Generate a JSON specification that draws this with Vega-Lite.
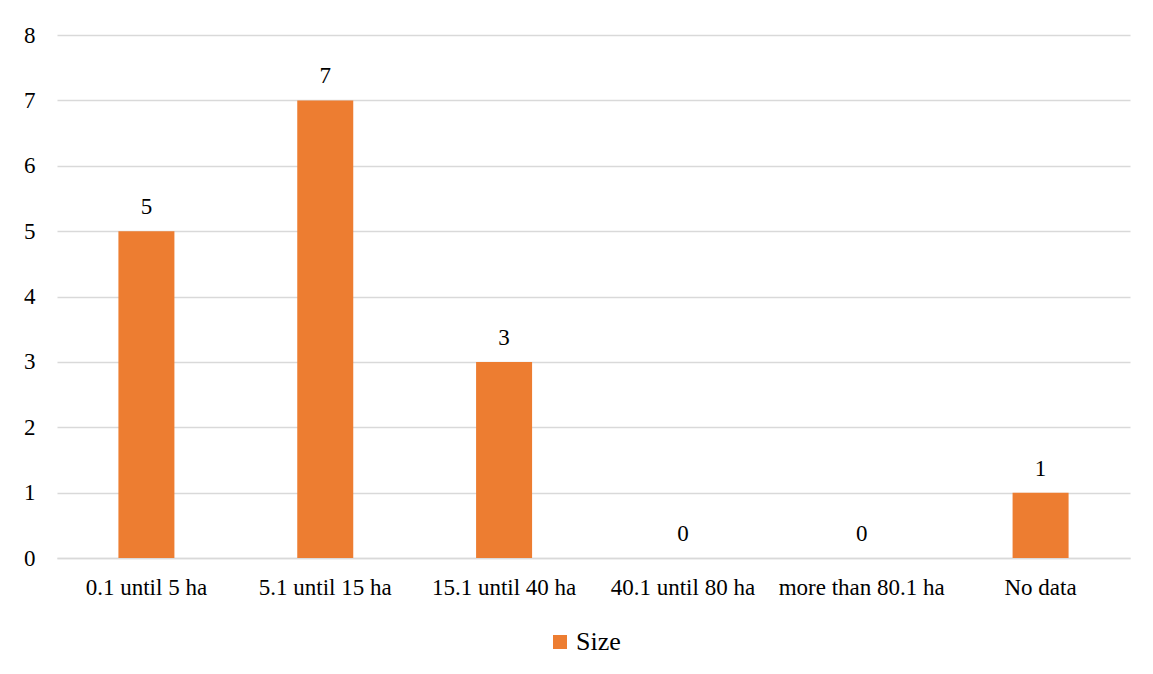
{
  "$schema": "https://vega.github.io/schema/vega-lite/v6.json",
  "width": 1073,
  "height": 523,
  "autosize": {"type": "none"},
  "padding": {"left": 57, "top": 35, "right": 23, "bottom": 116},
  "background": "white",
  "data": {
    "values": [
      {"category": "0.1 until 5 ha", "count": 5, "series": "Size"},
      {"category": "5.1 until 15 ha", "count": 7, "series": "Size"},
      {"category": "15.1 until 40 ha", "count": 3, "series": "Size"},
      {"category": "40.1 until 80 ha", "count": 0, "series": "Size"},
      {"category": "more than 80.1 ha", "count": 0, "series": "Size"},
      {"category": "No data", "count": 1, "series": "Size"}
    ]
  },
  "encoding": {
    "x": {
      "field": "category",
      "type": "nominal",
      "sort": null,
      "title": null,
      "scale": {"paddingInner": 0, "paddingOuter": 0},
      "axis": {
        "labelAngle": 0,
        "ticks": false,
        "domain": true,
        "domainColor": "#D9D9D9",
        "domainWidth": 1.5,
        "labelBaseline": "alphabetic",
        "labelPadding": 36
      }
    },
    "y": {
      "field": "count",
      "type": "quantitative",
      "title": null,
      "scale": {"domain": [0, 8]},
      "axis": {
        "values": [0, 1, 2, 3, 4, 5, 6, 7, 8],
        "ticks": false,
        "domain": false,
        "grid": true,
        "gridColor": "#D9D9D9",
        "gridWidth": 1.5,
        "labelPadding": 22
      }
    }
  },
  "layer": [
    {
      "mark": {"type": "bar", "size": 56, "color": "#ED7D31"},
      "encoding": {
        "color": {
          "field": "series",
          "type": "nominal",
          "scale": {"range": ["#ED7D31"]},
          "legend": {
            "title": null,
            "orient": "none",
            "direction": "horizontal",
            "legendX": 490,
            "legendY": 594,
            "symbolType": "square",
            "symbolSize": 196,
            "symbolStrokeWidth": 0,
            "labelOffset": 3,
            "labelFontSize": 26
          }
        }
      }
    },
    {
      "mark": {
        "type": "text",
        "fontSize": 23,
        "color": "#000000",
        "baseline": "alphabetic",
        "dy": -17
      },
      "encoding": {"text": {"field": "count", "type": "quantitative"}}
    }
  ],
  "config": {
    "font": "Liberation Serif, Times New Roman, serif",
    "view": {"stroke": null},
    "text": {"font": "Liberation Serif, Times New Roman, serif"},
    "axis": {"labelFont": "Liberation Serif, Times New Roman, serif", "labelFontSize": 23, "labelColor": "#000000"},
    "legend": {"labelFont": "Liberation Serif, Times New Roman, serif", "labelFontSize": 26, "labelColor": "#000000"}
  }
}
